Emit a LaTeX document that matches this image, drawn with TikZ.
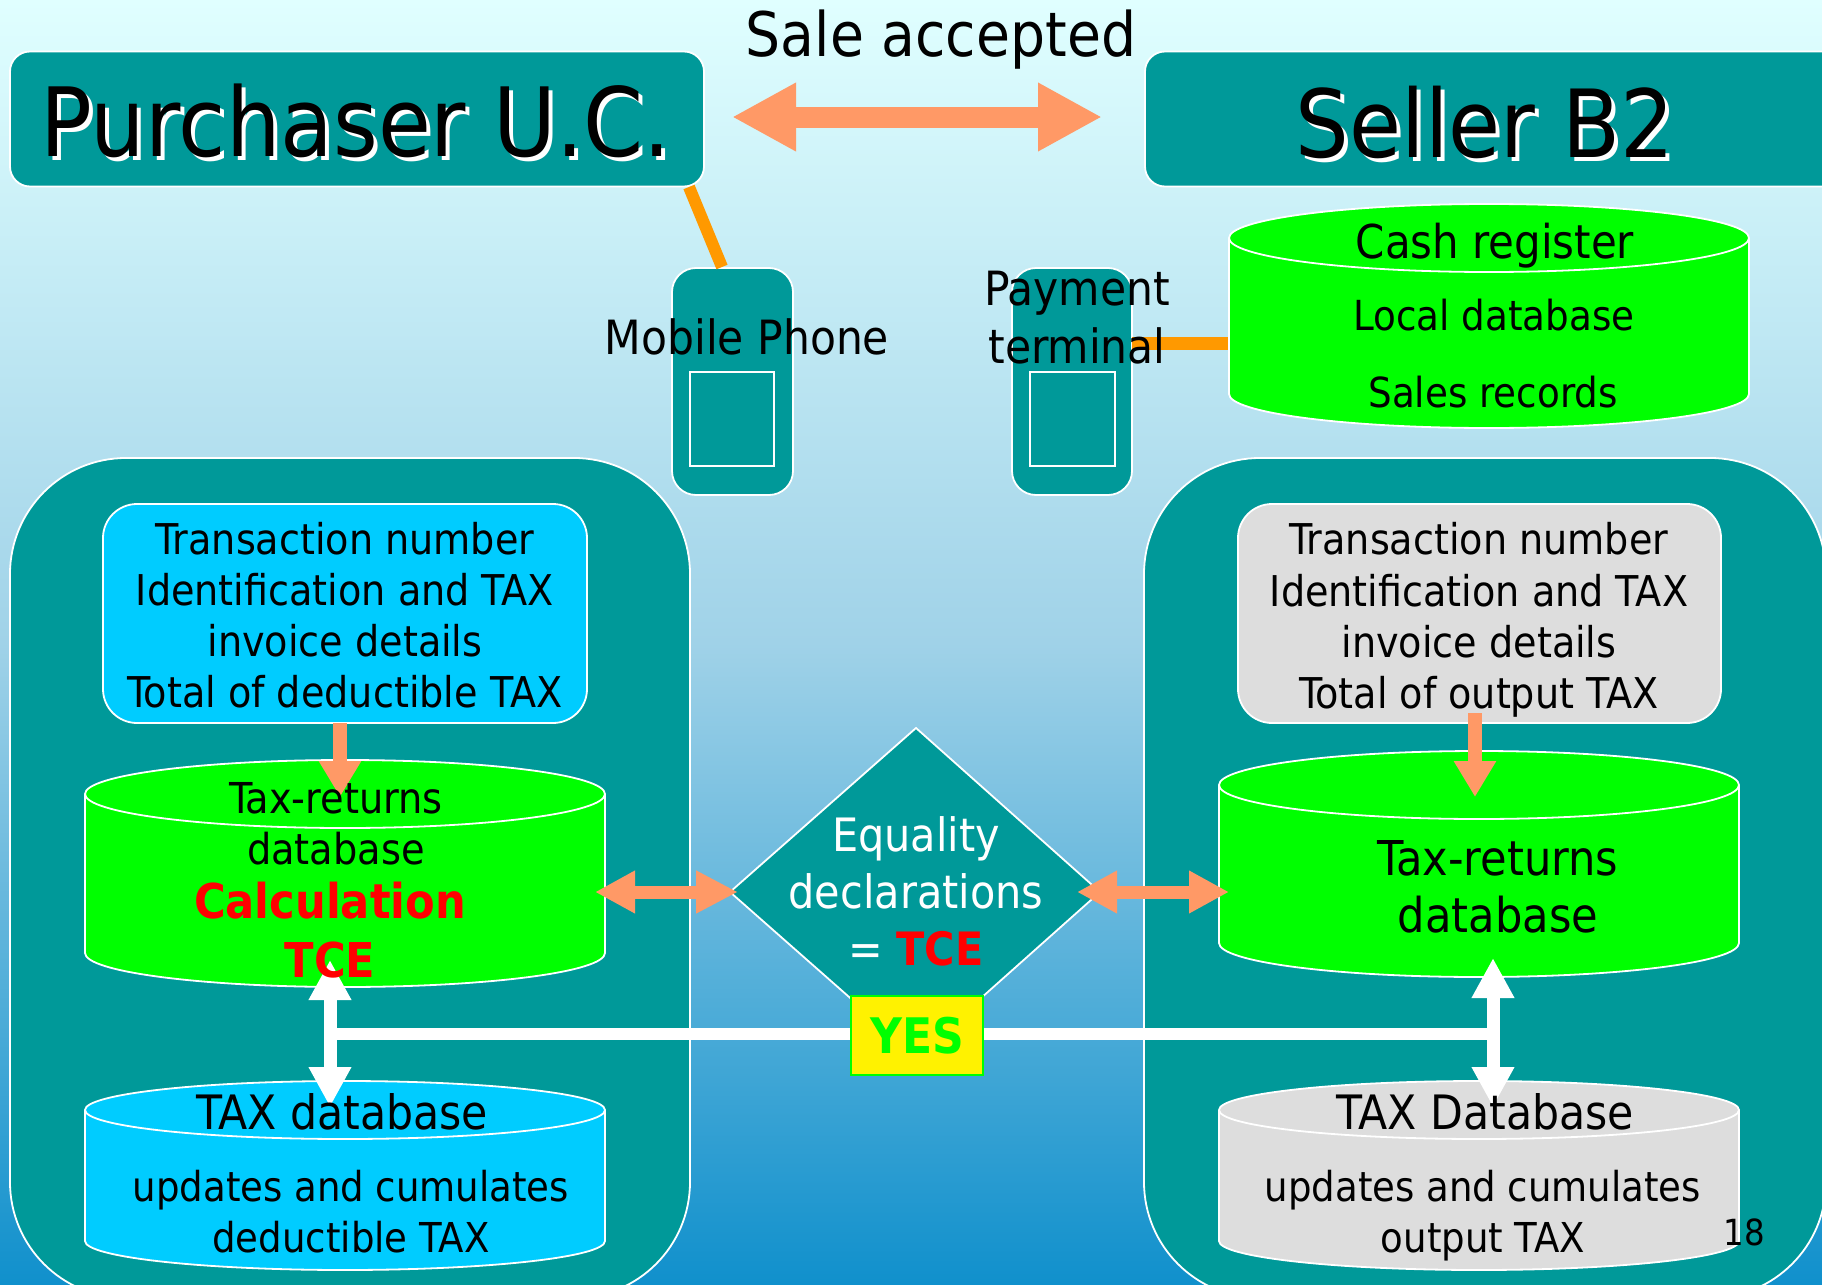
\documentclass[tikz,border=0pt]{standalone}
\usepackage{fontspec}
\setmainfont{DejaVu Sans Condensed}
\usetikzlibrary{arrows.meta,shapes.geometric}
\definecolor{teal1}{HTML}{009999}
\definecolor{salmon1}{HTML}{FF9966}
\definecolor{orange1}{HTML}{FF9900}
\definecolor{cyan1}{HTML}{00CCFF}
\definecolor{grey1}{HTML}{DDDDDD}
\definecolor{green1}{HTML}{00FF00}
\definecolor{bgbot}{HTML}{1090CC}
\definecolor{bgmid}{HTML}{A0D2E8}
\definecolor{bgtop}{HTML}{E0FFFF}
\pgfdeclareverticalshading{bgshade}{100bp}{
 color(0bp)=(bgbot);
 color(25bp)=(bgbot);
 color(50bp)=(bgmid);
 color(75bp)=(bgtop);
 color(100bp)=(bgtop)}
\newcommand{\fs}[2]{\fontsize{#1}{#2}\selectfont}
\newcommand{\shadowed}[1]{\makebox[0pt][l]{\kern2pt\raisebox{-2pt}{\textcolor{white}{#1}}}#1}
% name, x1, ytop(outer), x2, ybottom(outer), ry, fill
\newcommand{\cyl}[7]{%
 \pgfmathsetmacro{\cxm}{(#2+#4)/2}\pgfmathsetmacro{\crx}{(#4-#2)/2}%
 \pgfmathsetmacro{\cyt}{#3+#6}\pgfmathsetmacro{\cyb}{#5-#6}\pgfmathsetmacro{\cym}{(#3+#5)/2}%
 \draw[white,line width=.9pt,fill=#7] (#2,\cyt) -- (#2,\cyb) arc[start angle=180,end angle=0,x radius=\crx,y radius=#6] -- (#4,\cyt) arc[start angle=0,end angle=-180,x radius=\crx,y radius=#6] -- cycle;
 \draw[white,line width=.9pt] (#2,\cyt) arc[start angle=180,end angle=0,x radius=\crx,y radius=#6];
 \coordinate (#1) at (\cxm,\cym);}
\tikzset{
 tbox/.style={draw=white,line width=.9pt,fill=teal1,rounded corners=#1,inner sep=0pt,outer sep=0pt},
 salmonarrow/.style={draw=salmon1,line width=#1},
 whitearrow/.style={draw=white,line width=#1},
 txt/.style={align=center,inner sep=0pt,text=black},
 sz/.style 2 args={minimum width=#1*0.5pt,minimum height=#2*0.5pt},
 hdr/.style={txt,font=\fs{47}{54}},
 body/.style={txt,font=\fs{21.2}{25.6}},
}
\begin{document}
\begin{tikzpicture}[x=0.5pt,y=-0.5pt]
\useasboundingbox (0,0) rectangle (1822,1285);
\clip (0,0) rectangle (1822,1285);
\fill[shading=bgshade] (0,0) rectangle (1822,1285);

% top boxes
\node[tbox=10pt,sz={694}{135}] (purchaser) at (357,119) {};
\node[tbox=10pt,sz={700}{135}] (seller) at (1495,119) {};

% phones and their lines
\node[tbox=12pt,sz={121}{227}] (phone) at (732.5,381.5) {};
\node[tbox=12pt,sz={120}{227}] (terminal) at (1072,381.5) {};
\coordinate (purchaserout) at (689,187);
\coordinate (phonein) at (722,267);
\draw[orange1,line width=6pt] (purchaserout) -- (phonein);
\coordinate (termout) at (terminal.east |- 0,343);
\coordinate (cashin) at (1230,343);
\draw[orange1,line width=6.5pt] (termout) -- (cashin);
\node[draw=white,line width=.9pt,inner sep=0pt,sz={84}{94}] (phonescreen) at (732,419) {};
\node[draw=white,line width=.9pt,inner sep=0pt,sz={85}{94}] (termscreen) at (1072.5,419) {};

% cash register
\cyl{cash}{1229}{204}{1749}{428}{34}{green1}

% panels
\node[tbox=58pt,sz={680}{840}] (leftpanel) at (350,878) {};
\node[tbox=58pt,sz={682}{840}] (rightpanel) at (1485,878) {};

% panel contents
\node[draw=white,line width=.9pt,fill=cyan1,rounded corners=17pt,inner sep=0pt,sz={484}{219}] (leftbox) at (345,613.5) {};
\node[draw=white,line width=.9pt,fill=grey1,rounded corners=17pt,inner sep=0pt,sz={483}{219}] (rightbox) at (1479.5,613.5) {};
\cyl{leftdb}{85}{760}{605}{987}{34}{green1}
\cyl{rightdb}{1219}{751}{1739}{977}{34}{green1}
\cyl{lefttax}{85}{1081}{605}{1270}{29}{cyan1}
\cyl{righttax}{1219}{1081}{1739}{1270}{29}{grey1}

% diamond
\coordinate (dt) at (916,728);\coordinate (dl) at (730,892);\coordinate (db) at (916,1056);\coordinate (dr) at (1100,892);
\draw[white,line width=.9pt,fill=teal1] (dt) -- (dr) -- (db) -- (dl) -- cycle;

% salmon arrows
\coordinate (sa1) at (732,117);\coordinate (sa2) at (1102,117);
\draw[salmonarrow=10.5pt,{Triangle[length=32pt,width=32pt]}-{Triangle[length=32pt,width=32pt]}] (sa1) -- (sa2);
\coordinate (ea1) at (595,892);\coordinate (ea2) at (738,892);
\draw[salmonarrow=6.5pt,{Triangle[length=20pt,width=20pt]}-{Triangle[length=21pt,width=20pt]}] (ea1) -- (ea2);
\coordinate (eb1) at (1077,892);\coordinate (eb2) at (1229,892);
\draw[salmonarrow=6.5pt,{Triangle[length=20pt,width=20pt]}-{Triangle[length=20pt,width=20pt]}] (eb1) -- (eb2);
\coordinate (da1) at (340,723);\coordinate (da2) at (340,797);
\draw[salmonarrow=7pt,-{Triangle[length=18pt,width=20pt]}] (da1) -- (da2);
\coordinate (db1) at (1475,713);\coordinate (db2) at (1475,797);
\draw[salmonarrow=7pt,-{Triangle[length=18pt,width=20pt]}] (db1) -- (db2);

% white bus and arrows
\coordinate (bl) at (330,1034);\coordinate (br) at (1493,1034);
\draw[white,line width=6pt] (bl) -- (br);
\coordinate (wl1) at (330,960);\coordinate (wl2) at (330,1107);
\draw[whitearrow=6.5pt,{Triangle[length=20pt,width=20pt]}-{Triangle[length=20pt,width=20pt]}] (wl1) -- (wl2);
\coordinate (wr1) at (1493,958);\coordinate (wr2) at (1493,1107);
\draw[whitearrow=6.5pt,{Triangle[length=20pt,width=20pt]}-{Triangle[length=20pt,width=20pt]}] (wr1) -- (wr2);

\node[draw=green1,line width=1pt,fill=yellow,inner sep=0pt,sz={132}{79},font=\fs{24.5}{28}\bfseries,text=green1] (yes) at (917,1035.5) {\raisebox{-1pt}{YES}};

% texts
\node[txt,font=\fs{30.7}{34}] (sale) at (941,40) {Sale accepted};
\node[hdr,font=\fs{47.8}{54}] (ptitle) at (356,123) {\shadowed{Purchaser U.C.}};
\node[hdr] (stitle) at (1485,124) {\shadowed{Seller B2}};
\node[body,font=\fs{23.6}{29}] (mob) at (747,337) {Mobile Phone};
\node[body,font=\fs{23.6}{29}] (pay) at (1077,318) {Payment\\terminal};
\node[body,font=\fs{23.3}{28}] (c1) at (1495,246) {Cash register};
\node[body,font=\fs{20.7}{25}] (c2) at (1494,315) {Local database};
\node[body,font=\fs{20.7}{25}] (c3) at (1493,392) {Sales records};
\node[body] (lt) at (345,615) {Transaction number\\Identification and TAX\\invoice details\\Total of deductible TAX};
\node[body] (rt) at (1479,620) {Transaction number\\Identification and TAX\\invoice details\\Total of output TAX};
\node[body,font=\fs{21.3}{25.6}] (l1) at (336,824) {Tax-returns\\database};
\node[txt,text=red,font=\fs{24}{29.5}\bfseries] (l2) at (330,930) {Calculation\\TCE};
\node[body,font=\fs{24}{28.5}] (r1) at (1498,887) {Tax-returns\\database};
\node[txt,text=white,font=\fs{23}{28.5}] (eq) at (916,891) {Equality\\declarations\\= \textcolor{red}{\bfseries TCE}};
\node[body,font=\fs{23.7}{28}] (t1) at (342,1112) {TAX database};
\node[body,font=\fs{20.6}{25.6}] (t2) at (351,1212) {updates and cumulates\\deductible TAX};
\node[body,font=\fs{23.7}{28}] (t3) at (1485,1112) {TAX Database};
\node[body,font=\fs{20.6}{25.6}] (t4) at (1483,1216) {updates and cumulates\\output TAX};
\node[body,font=\fs{18}{20}] (pg) at (1744,1232) {18};
\end{tikzpicture}
\end{document}
